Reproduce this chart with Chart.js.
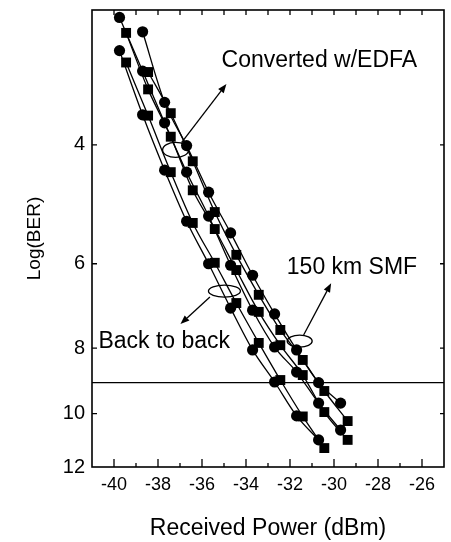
<!DOCTYPE html>
<html lang="en">
<head>
<meta charset="UTF-8" />
<title>BER vs Received Power</title>
<style>
    body { margin: 0; background: #fff; }
    canvas { display: block; }
</style>
<script src="https://cdn.jsdelivr.net/npm/chart.js"></script>
</head>
<body>
<canvas id="berChart" width="451" height="542"></canvas>
<script>
    // x = received power (dBm), y = -log(BER)
    const b2bCircX = [-39.75, -38.7, -37.7, -36.7, -35.7, -34.7, -33.7, -32.7, -31.7, -30.7];
    const b2bCircY = [2.90, 3.61, 4.36, 5.19, 6.00, 6.98, 8.05, 8.98, 10.08, 10.94];
    const b2bSqX = [-39.45, -38.45, -37.42, -36.42, -35.42, -34.44, -33.42, -32.44, -31.42, -30.44];
    const b2bSqY = [3.02, 3.62, 4.39, 5.22, 5.98, 6.86, 7.86, 8.92, 10.1, 11.25];

    const edfaCircX = [-39.75, -38.7, -37.7, -36.7, -35.7, -34.7, -33.7, -32.7, -31.7, -30.7, -29.7];
    const edfaCircY = [2.59, 3.11, 3.71, 4.39, 5.10, 6.03, 7.03, 7.97, 8.68, 9.65, 10.58];
    const edfaSqX = [-39.45, -38.45, -37.42, -36.42, -35.42, -34.44, -33.42, -32.44, -31.42, -30.44, -29.38];
    const edfaSqY = [2.73, 3.31, 3.89, 4.67, 5.33, 6.13, 7.07, 7.92, 8.77, 9.95, 10.94];

    const smfCircX = [-38.7, -37.7, -36.7, -35.7, -34.7, -33.7, -32.7, -31.7, -30.7, -29.7];
    const smfCircY = [2.72, 3.46, 4.01, 4.70, 5.40, 6.24, 7.12, 8.05, 9.00, 9.65];
    const smfSqX = [-38.45, -37.42, -36.42, -35.42, -34.44, -33.42, -32.44, -31.42, -30.44, -29.38];
    const smfSqY = [3.12, 3.59, 4.23, 5.03, 5.82, 6.67, 7.52, 8.33, 9.26, 10.26];

    const xTicks = [-40, -38, -36, -34, -32, -30, -28, -26];
    const yTicks = [4, 6, 8, 10, 12];
    const errorFloor = 9;

    const FONT = "'Liberation Sans', Arial, sans-serif";

    function points(xs, ys) {
        return xs.map((x, i) => ({ x: x, y: ys[i] }));
    }

    const series = [
        [b2bCircX, b2bCircY, 'circle'], [b2bSqX, b2bSqY, 'rect'],
        [edfaCircX, edfaCircY, 'circle'], [edfaSqX, edfaSqY, 'rect'],
        [smfCircX, smfCircY, 'circle'], [smfSqX, smfSqY, 'rect']
    ];

    const datasets = series.map(s => ({
        data: points(s[0], s[1]),
        pointStyle: s[2],
        pointRadius: s[2] === 'rect' ? 7 : 5.6,
        backgroundColor: '#000', borderColor: '#000', borderWidth: 1.3,
        pointBorderWidth: 0,
        showLine: true, cubicInterpolationMode: 'monotone', fill: false
    }));

    // annotation positions in data units
    const notes = [
        { text: 'Converted w/EDFA', tx: -26.22, ty: 3.0, align: 'right',
          ex: -37.2, ey: 4.07, rx: 13, ry: 7.5, from: [-36.93, 3.97], to: [-34.89, 3.25] },
        { text: 'Back to back', tx: -40.71, ty: 7.83, align: 'left',
          ex: -34.98, ey: 6.585, rx: 16, ry: 6, from: [-35.64, 6.72], to: [-36.98, 7.37] },
        { text: '150 km SMF', tx: -26.22, ty: 6.07, align: 'right',
          ex: -31.56, ey: 7.81, rx: 12.5, ry: 6, from: [-31.38, 7.65], to: [-30.13, 6.41] }
    ];

    function arrow(ctx, x0, y0, x1, y1) {
        const ang = Math.atan2(y1 - y0, x1 - x0);
        const L = 9, W = 3.5;
        ctx.beginPath();
        ctx.moveTo(x0, y0);
        ctx.lineTo(x1 - L * Math.cos(ang), y1 - L * Math.sin(ang));
        ctx.stroke();
        ctx.beginPath();
        ctx.moveTo(x1, y1);
        ctx.lineTo(x1 - L * Math.cos(ang) + W * Math.sin(ang), y1 - L * Math.sin(ang) - W * Math.cos(ang));
        ctx.lineTo(x1 - L * Math.cos(ang) - W * Math.sin(ang), y1 - L * Math.sin(ang) + W * Math.cos(ang));
        ctx.closePath();
        ctx.fill();
    }

    function noPadding(s) {
        s.paddingTop = 0; s.paddingBottom = 0;
        s.paddingLeft = 0; s.paddingRight = 0;
    }

    const floorLine = {
        id: 'floorLine',
        beforeDatasetsDraw(chart) {
            const { ctx, chartArea: a, scales: { y } } = chart;
            const py = y.getPixelForValue(errorFloor);
            ctx.save();
            ctx.strokeStyle = '#000';
            ctx.lineWidth = 1.2;
            ctx.beginPath();
            ctx.moveTo(a.left, py);
            ctx.lineTo(a.right, py);
            ctx.stroke();
            ctx.restore();
        }
    };

    const frame = {
        id: 'frame',
        afterDraw(chart) {
            const { ctx, chartArea: a, scales: { x, y } } = chart;
            ctx.save();
            ctx.strokeStyle = '#000';
            ctx.fillStyle = '#000';
            ctx.lineWidth = 1.6;
            ctx.strokeRect(a.left, a.top, a.right - a.left, a.bottom - a.top);
            ctx.lineWidth = 1.3;
            ctx.beginPath();
            for (let v = -40; v <= -26; v++) {
                const px = x.getPixelForValue(v);
                const major = v % 2 === 0;
                ctx.moveTo(px, a.bottom);
                ctx.lineTo(px, a.bottom - (major ? 8 : 4));
                ctx.moveTo(px, a.top);
                ctx.lineTo(px, a.top + 5);
            }
            yTicks.forEach(v => {
                if (v >= 12) return;
                const py = y.getPixelForValue(v);
                ctx.moveTo(a.left, py);
                ctx.lineTo(a.left + 5, py);
                ctx.moveTo(a.right, py);
                ctx.lineTo(a.right - 4, py);
            });
            ctx.stroke();

            // labels, ellipses and arrows
            ctx.lineWidth = 1.3;
            ctx.font = '23px ' + FONT;
            ctx.textBaseline = 'middle';
            notes.forEach(n => {
                ctx.textAlign = n.align;
                ctx.fillText(n.text, x.getPixelForValue(n.tx), y.getPixelForValue(n.ty));
                ctx.beginPath();
                ctx.ellipse(x.getPixelForValue(n.ex), y.getPixelForValue(n.ey), n.rx, n.ry, 0, 0, Math.PI * 2);
                ctx.stroke();
                arrow(ctx, x.getPixelForValue(n.from[0]), y.getPixelForValue(n.from[1]),
                      x.getPixelForValue(n.to[0]), y.getPixelForValue(n.to[1]));
            });
            ctx.restore();
        }
    };

    new Chart(document.getElementById('berChart'), {
        type: 'scatter',
        data: { datasets: datasets },
        options: {
            responsive: false,
            animation: false,
            layout: { padding: { top: 10, right: 2, left: 0, bottom: 0 } },
            plugins: { legend: { display: false }, tooltip: { enabled: false } },
            scales: {
                x: {
                    type: 'linear', min: -41, max: -25,
                    grid: { display: false, drawTicks: false },
                    border: { display: false },
                    afterBuildTicks: s => { s.ticks = xTicks.map(v => ({ value: v })); },
                    afterFit: s => { s.height = 75; noPadding(s); },
                    ticks: { color: '#000', font: { family: FONT, size: 18 }, padding: 7,
                             maxRotation: 0, autoSkip: false, callback: v => String(v) },
                    title: { display: true, text: 'Received Power (dBm)', color: '#000',
                             font: { family: FONT, size: 23 }, padding: { top: 0, bottom: 0 } }
                },
                y: {
                    type: 'logarithmic', reverse: true, min: 2.525, max: 12,
                    grid: { display: false, drawTicks: false },
                    border: { display: false },
                    afterBuildTicks: s => { s.ticks = yTicks.map(v => ({ value: v })); },
                    afterFit: s => { s.width = 92; noPadding(s); },
                    ticks: { color: '#000', font: { family: FONT, size: 20 }, padding: 7,
                             autoSkip: false, callback: v => String(v) },
                    title: { display: true, text: 'Log(BER)', color: '#000',
                             font: { family: FONT, size: 19 }, padding: { top: 23, bottom: 0 } }
                }
            }
        },
        plugins: [floorLine, frame]
    });
</script>
</body>
</html>
